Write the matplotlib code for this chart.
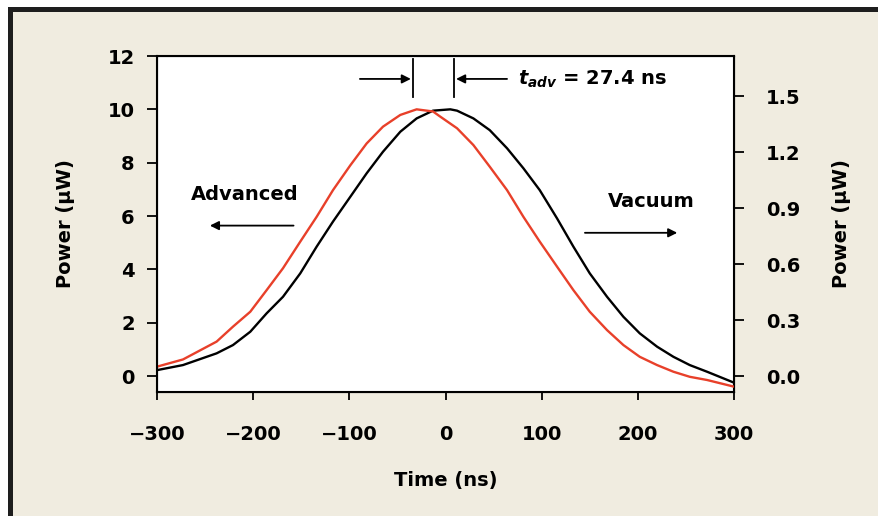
import numpy as np
import matplotlib
matplotlib.use("Agg")
import matplotlib.pyplot as plt
from matplotlib.patches import Rectangle
from matplotlib.ticker import FormatStrFormatter

# values (left-axis units, uW)
vac_t = [-300, -273, -238, -221, -203, -186, -169, -151, -134, -117, -99, -82, -65, -47,
         -30, -13, 5, 12, 29, 46, 64, 81, 98, 116, 133, 150, 168, 185, 202, 220, 237,
         254, 272, 300]
vac_p = [0.22, 0.41, 0.85, 1.16, 1.66, 2.35, 2.97, 3.85, 4.85, 5.79, 6.72, 7.60, 8.41, 9.16,
         9.66, 9.95, 10.0, 9.95, 9.66, 9.22, 8.54, 7.79, 6.97, 5.91, 4.85, 3.85, 2.97, 2.22,
         1.60, 1.10, 0.72, 0.41, 0.16, -0.25]

adv_t = [-300, -273, -238, -221, -203, -186, -169, -151, -134, -117, -99, -82, -65, -47,
         -30, -13, -6, 12, 29, 46, 64, 81, 98, 116, 133, 150, 168, 185, 202, 220, 237,
         254, 272, 300]
adv_p = [0.35, 0.62, 1.29, 1.85, 2.41, 3.22, 4.04, 5.04, 5.97, 6.97, 7.90, 8.72, 9.35, 9.79,
         10.0, 9.92, 9.74, 9.29, 8.66, 7.85, 6.97, 5.97, 5.04, 4.10, 3.22, 2.41, 1.72, 1.16,
         0.72, 0.41, 0.16, -0.03, -0.15, -0.40]

x_ticks = [-300, -200, -100, 0, 100, 200, 300]
left_ticks = [0, 2, 4, 6, 8, 10, 12]
right_ticks = [0.0, 0.3, 0.6, 0.9, 1.2, 1.5]
scale = 7.0  # left units per right unit

FONT = "DejaVu Sans"
plt.rcParams["font.family"] = [FONT]
plt.rcParams["font.weight"] = "bold"
plt.rcParams["mathtext.fontset"] = "custom"
plt.rcParams["mathtext.it"] = "DejaVu Sans:italic:bold"
plt.rcParams["mathtext.rm"] = "DejaVu Sans:bold"

BEIGE = "#f0ece0"
RED = "#e8402a"
FS = 14

fig = plt.figure(figsize=(8.79, 5.16), dpi=100, facecolor="white")

# beige panel with dark frame on top and left
fig.patches.append(Rectangle((13 / 879, 0), 1, 1 - 12 / 516, transform=fig.transFigure,
                             facecolor=BEIGE, edgecolor="none", zorder=-5))
fig.patches.append(Rectangle((8 / 879, 0), 5 / 879, 1 - 7 / 516, transform=fig.transFigure,
                             facecolor="#1e1e1e", edgecolor="none", zorder=-4))
fig.patches.append(Rectangle((8 / 879, 1 - 12 / 516), 1, 5 / 516, transform=fig.transFigure,
                             facecolor="#1e1e1e", edgecolor="none", zorder=-4))

ax = fig.add_axes([157 / 879, 1 - 392 / 516, (734 - 157) / 879, (392 - 56) / 516])
ax.set_facecolor("white")

ax.plot(vac_t, vac_p, color="black", lw=1.7, zorder=3)
ax.plot(adv_t, adv_p, color=RED, lw=1.7, zorder=3)

ax.set_xlim(-300, 300)
ax.set_ylim(-0.6, 12)
ax.set_xticks(x_ticks)
ax.set_yticks(left_ticks)
ax.tick_params(axis="x", direction="out", length=6, width=1.3, pad=18, labelsize=FS)
ax.tick_params(axis="y", direction="out", length=7, width=1.3, pad=9, labelsize=FS)
for s in ax.spines.values():
    s.set_linewidth(1.5)
ax.set_xlabel("Time (ns)", fontsize=FS, fontweight="bold", labelpad=19)
ax.set_ylabel("Power (\u03bcW)", fontsize=FS, fontweight="bold")

ax2 = ax.twinx()
ax2.set_ylim(-0.6 / scale, 12 / scale)
ax2.set_yticks(right_ticks)
ax2.yaxis.set_major_formatter(FormatStrFormatter("%.1f"))
ax2.tick_params(axis="y", direction="out", length=7, width=1.3, pad=16, labelsize=FS)
ax2.set_ylabel("Power (\u03bcW)", fontsize=FS, fontweight="bold", rotation=90)
ax2.yaxis.set_label_coords(1.17, 0.5)
ax.yaxis.set_label_coords(-0.142, 0.5)

# advance marker
for tx in (-34, 9):
    ax.plot([tx, tx], [10.45, 11.9], color="black", lw=1.3, zorder=4)
arr = dict(arrowstyle="-|>", color="black", lw=1.3, mutation_scale=13, shrinkA=0, shrinkB=0)
ax.annotate("", xy=(-36, 11.14), xytext=(-89, 11.14), arrowprops=arr)
ax.annotate("", xy=(11, 11.14), xytext=(64, 11.14), arrowprops=arr)
ax.text(75, 11.14, r"$t_{adv}$ = 27.4 ns", fontsize=FS, fontweight="bold",
        ha="left", va="center")

# labels with direction arrows
ax.text(-209, 6.8, "Advanced", fontsize=FS, fontweight="bold", ha="center", va="center")
ax.annotate("", xy=(-245, 5.64), xytext=(-158, 5.64), arrowprops=arr)
ax.text(214, 6.54, "Vacuum", fontsize=FS, fontweight="bold", ha="center", va="center")
ax.annotate("", xy=(241, 5.37), xytext=(145, 5.37), arrowprops=arr)

fig.savefig("out.png", dpi=100, facecolor=fig.get_facecolor())
